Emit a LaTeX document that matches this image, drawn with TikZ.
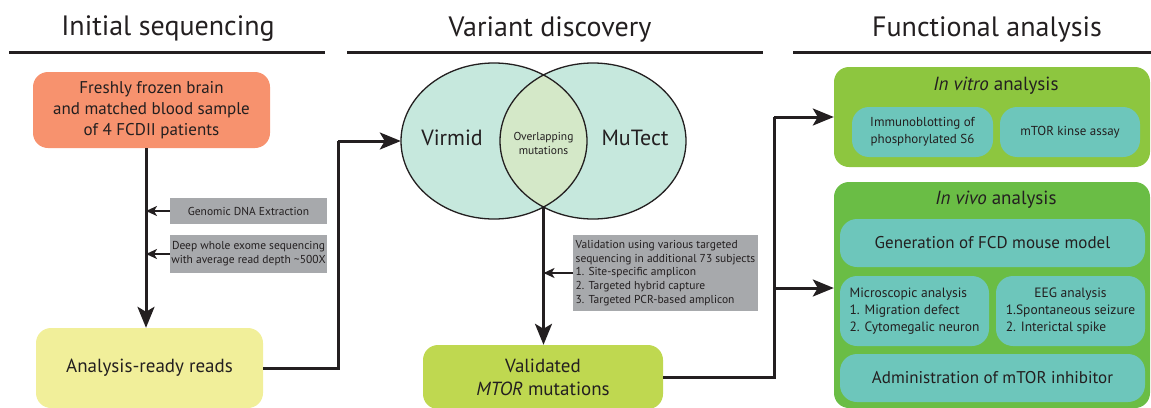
\documentclass[tikz,border=0pt]{standalone}
\usepackage{fontspec}
\setmainfont{PT Sans}
\usetikzlibrary{arrows.meta,shapes.geometric}
\definecolor{TextClr}{RGB}{35,31,32}
\definecolor{SampleClr}{RGB}{247,146,110}
\definecolor{ReadsClr}{RGB}{241,239,154}
\definecolor{StepClr}{RGB}{167,169,172}
\definecolor{VennClr}{RGB}{198,232,221}
\definecolor{LensClr}{RGB}{212,232,200}
\definecolor{ValidClr}{RGB}{191,216,80}
\definecolor{VitroClr}{RGB}{141,198,63}
\definecolor{VivoClr}{RGB}{106,189,69}
\definecolor{AssayClr}{RGB}{109,198,187}

\begin{document}
\begin{tikzpicture}[x=1pt,y=-1pt,text=TextClr,
  head/.style={font=\fontsize{28}{32}\selectfont},
  rule/.style={line width=3pt,draw=TextClr},
  box/.style={rounded corners=15pt,inner sep=0pt,align=center},
  gray/.style={fill=StepClr,inner sep=0pt,align=center,font=\fontsize{11.5}{14}\selectfont},
  assay/.style={box,fill=AssayClr,rounded corners=17pt},
  arr/.style={line width=3pt,draw=TextClr,-{Stealth[length=21pt,width=17pt,inset=5pt]}},
  link/.style={line width=3pt,draw=TextClr},
  sarr/.style={line width=2.6pt,draw=TextClr,-{Stealth[length=11pt,width=10pt,inset=3pt]}},
  venn/.style={ellipse,minimum width=186pt,minimum height=156pt,inner sep=0pt},
]
\useasboundingbox (0,0) rectangle (1151,407);

% column headings
\node[head] (tInit) at (168,29) {Initial sequencing};
\node[head] (tVar)  at (550,29) {Variant discovery};
\node[head] (tFun)  at (987,29) {Functional analysis};
\draw[rule] (9,52) -- (325,52);
\draw[rule] (347,52) -- (763,52);
\draw[rule] (793,52) -- (1151,52);

% initial sequencing
\node[box,fill=SampleClr,minimum width=237pt,minimum height=76pt,
  font=\fontsize{17}{21}\selectfont] (sample) at (151.5,110)
  {Freshly frozen brain\\and matched blood sample\\of 4 FCDII patients};
\node[box,fill=ReadsClr,minimum width=227pt,minimum height=80pt,
  font=\fontsize{19}{23}\selectfont] (reads) at (149.5,368) {Analysis-ready reads};
\node[gray,minimum width=157pt,minimum height=26pt] (gdna) at (248.5,211)
  {Genomic DNA Extraction};
\node[gray,minimum width=157pt,minimum height=38pt] (wes) at (248.5,254)
  {Deep whole exome sequencing\\with average read depth \textasciitilde500X};
\coordinate (trunk) at (146,0);
\draw[arr] (sample.south -| trunk) -- (reads.north -| trunk);
\draw[sarr] (gdna.west) -- (gdna.west -| trunk);
\draw[sarr] (wes.west) -- (wes.west -| trunk);

% variant discovery
\node[venn,fill=VennClr] (virmid) at (494,141) {};
\node[venn,fill=VennClr] (mutect) at (593,141) {};
\begin{scope}
  \clip (494,141) ellipse [x radius=93,y radius=78];
  \fill[LensClr] (593,141) ellipse [x radius=93,y radius=78];
\end{scope}
\draw[line width=1.3pt,TextClr] (494,141) ellipse [x radius=93,y radius=78];
\draw[line width=1.3pt,TextClr] (593,141) ellipse [x radius=93,y radius=78];
\node[font=\fontsize{22}{26}\selectfont] (lVir) at (452,138) {Virmid};
\node[font=\fontsize{22}{26}\selectfont] (lMut) at (635,138) {MuTect};
\node[align=center,font=\fontsize{11.5}{14}\selectfont] (lOver) at (543.5,143)
  {Overlapping\\mutations};
\coordinate (lens) at (543.5,206);
\node[box,fill=ValidClr,minimum width=240pt,minimum height=64pt,
  font=\fontsize{19}{23}\selectfont] (valid) at (543,377)
  {Validated\\\textit{MTOR} mutations};
\node[gray,align=left,minimum width=185pt,minimum height=76pt,
  font=\fontsize{11.5}{13.7}\selectfont] (target) at (665.5,273)
  {Validation using various targeted\\sequencing in additional 73 subjects\\
   1. Site-specific amplicon\\2. Targeted hybrid capture\\3. Targeted PCR-based amplicon};
\coordinate (jA) at (338,0);
\draw[link] (reads.east) -- (reads.east -| jA) -- (jA |- virmid.west);
\draw[arr] (jA |- virmid.west) -- (virmid.west);
\draw[arr] (lens) -- (valid.north -| lens);
\draw[sarr] (target.west) -- (target.west -| lens);

% functional analysis
\node[box,fill=VitroClr,minimum width=316pt,minimum height=100pt] (vitro) at (992,117) {};
\node[font=\fontsize{19}{23}\selectfont] (tVitro) at (996,86) {\textit{In vitro} analysis};
\node[assay,minimum width=141pt,minimum height=50pt,font=\fontsize{13}{17}\selectfont]
  (blot) at (922.5,132) {Immunoblotting of\\phosphorylated S6};
\node[assay,minimum width=140pt,minimum height=50pt,font=\fontsize{13}{17}\selectfont]
  (kinase) at (1070,132) {mTOR kinse assay};

\node[box,fill=VivoClr,minimum width=316pt,minimum height=226pt] (vivo) at (992,295) {};
\node[font=\fontsize{19}{23}\selectfont] (tVivo) at (996,200) {\textit{In vivo} analysis};
\node[assay,minimum width=305pt,minimum height=48pt,font=\fontsize{17}{21}\selectfont]
  (model) at (992.5,243) {Generation of FCD mouse model};
\node[assay,minimum width=149pt,minimum height=70pt,font=\fontsize{13.5}{17}\selectfont]
  (micro) at (914.5,311) {\begin{tabular}{@{}l@{}}Microscopic analysis\\
  1. Migration defect\\2. Cytomegalic neuron\end{tabular}};
\node[assay,minimum width=149pt,minimum height=70pt,font=\fontsize{13.5}{17}\selectfont]
  (eeg) at (1070.5,311) {\begin{tabular}{@{}l@{}}\multicolumn{1}{@{}c@{}}{EEG analysis}\\
  1.Spontaneous seizure\\2. Interictal spike\end{tabular}};
\node[assay,minimum width=305pt,minimum height=48pt,font=\fontsize{17}{21}\selectfont]
  (inhib) at (992.5,378) {Administration of mTOR inhibitor};

\coordinate (jB) at (774,0);
\coordinate (fork) at (774,288);
\draw[link] (valid.east) -- (valid.east -| jB) -- (jB |- vitro.west);
\draw[arr] (jB |- vitro.west) -- (vitro.west);
\draw[arr] (fork) -- (fork -| vivo.west);
\end{tikzpicture}
\end{document}
